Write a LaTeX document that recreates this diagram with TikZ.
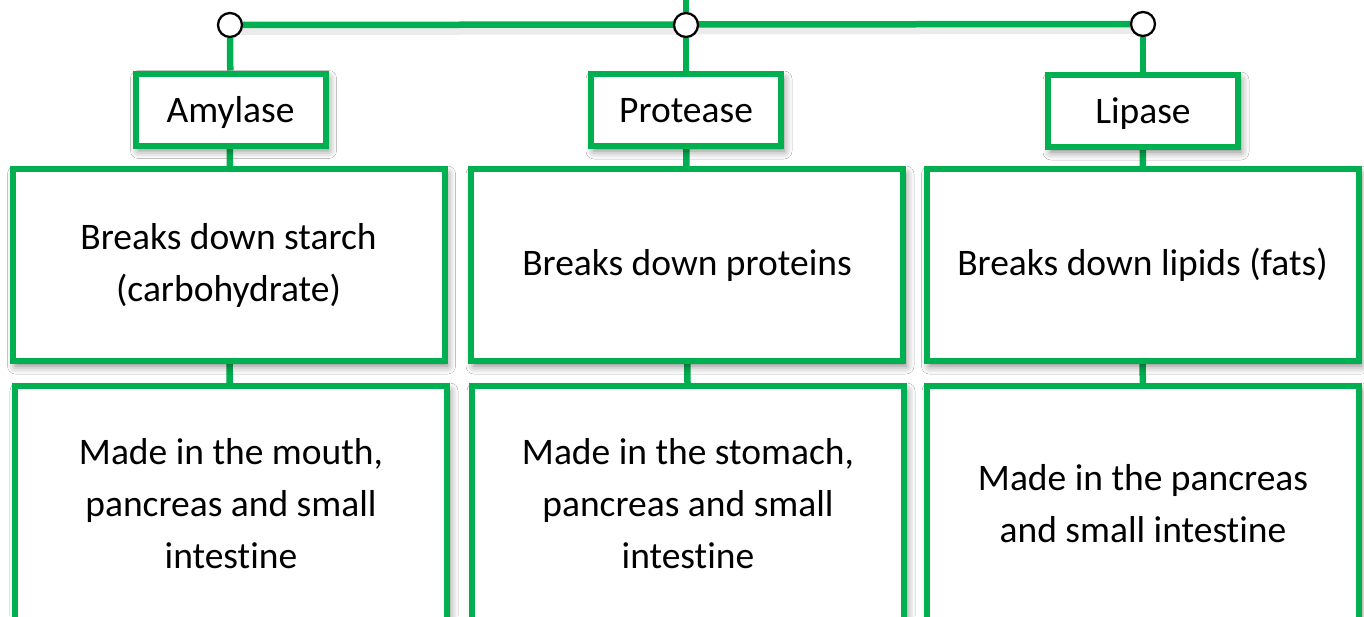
\documentclass[tikz,border=0pt]{standalone}
\usepackage{fontspec}
\setmainfont[Ligatures=NoCommon]{Carlito}
\usetikzlibrary{shadows.blur}
\definecolor{grn}{HTML}{00B050}
\pgfdeclarelayer{bg}
\pgfsetlayers{bg,main}
\tikzset{
  conn/.style={draw=grn, line width=6.5pt},
  connshadow/.style={draw=black, opacity=0.08, line width=8pt},
  box/.style={draw=grn, line width=6pt, fill=white, inner sep=0pt, align=center,
    font=\fontsize{37.5}{52}\selectfont,
    blur shadow={shadow xshift=3pt, shadow yshift=-5pt, shadow blur radius=8pt, shadow opacity=50}},
  namebox/.style={box, minimum width=190pt, minimum height=72pt, text height=26pt, text depth=1pt},
  descbox/.style={box, minimum width=432pt, minimum height=192pt},
  infobox/.style={box, minimum width=432pt, minimum height=236pt},
  dot/.style={circle, draw=black, line width=2.3pt, fill=white, minimum size=24pt, inner sep=0pt},
}
\begin{document}
\begin{tikzpicture}[x=1pt,y=-1pt]
\useasboundingbox (0,0) rectangle (1364,616);
\clip (0,0) rectangle (1364,616);

\coordinate (top) at (686,-10);
\node[dot] (da) at (230,25) {};
\node[dot] (dp) at (686,25) {};
\node[dot] (dl) at (1143,24) {};

\node[namebox] (na) at (230.5,109.5) {Amylase};
\node[namebox] (np) at (686,110) {Protease};
\node[namebox] (nl) at (1143,111) {Lipase};

\node[descbox] (ma) at (228.5,265) {Breaks down starch\\(carbohydrate)};
\node[descbox] (mp) at (687,265) {Breaks down proteins};
\node[descbox] (ml) at (1142.5,265) {Breaks down lipids (fats)};

\node[infobox] (ba) at (231,504) {Made in the mouth,\\pancreas and small\\intestine};
\node[infobox] (bp) at (688,504) {Made in the stomach,\\pancreas and small\\intestine};
\node[infobox] (bl) at (1143,504) {Made in the pancreas\\and small intestine};

\begin{pgfonlayer}{bg}
  \fill[white] (0,0) rectangle (1364,616);
  \draw[connshadow] ([yshift=-6pt]da.center) -- ([yshift=-6pt]dl.center);
  \draw[conn] (top) -- (dp);
  \draw[conn] (da) -- (dl);
  \draw[conn] (da) -- (na);
  \draw[conn] (dp) -- (np);
  \draw[conn] (dl) -- (nl);
  \draw[conn] (na) -- (ma);
  \draw[conn] (np) -- (mp);
  \draw[conn] (nl) -- (ml);
  \draw[conn] (ma) -- (ba);
  \draw[conn] (mp) -- (bp);
  \draw[conn] (ml) -- (bl);
\end{pgfonlayer}
\end{tikzpicture}
\end{document}
